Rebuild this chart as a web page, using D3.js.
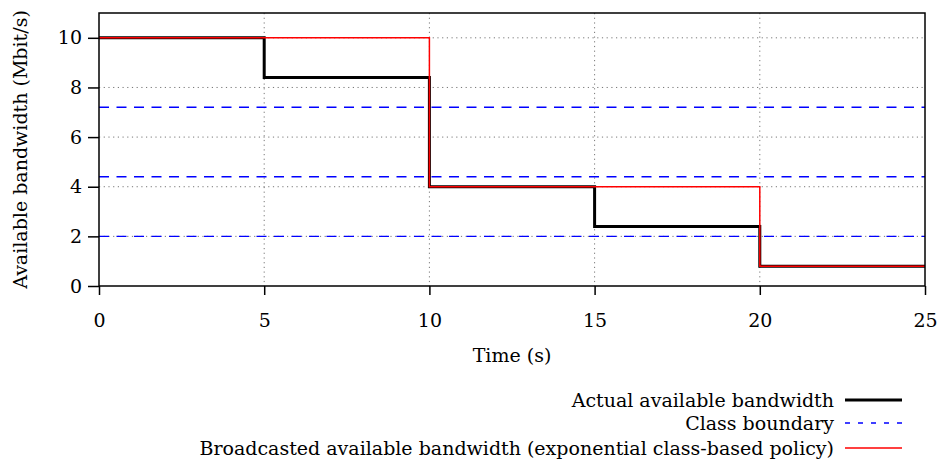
<!DOCTYPE html>
<html>
<head>
<meta charset="utf-8">
<script src="https://cdn.jsdelivr.net/npm/d3@7"></script>
<style>
  body { margin: 0; background: #fff; }
  svg { display: block; font-family: "DejaVu Serif", serif; }
</style>
</head>
<body>
<div id="chart"></div>
<script>
// step data: value holds from start time until the next time
const times = [0, 5, 10, 15, 20, 25];
const actualBw = [10, 8.4, 4, 2.4, 0.8, 0.8];
const broadcastBw = [10, 10, 4, 4, 0.8, 0.8];
const classBounds = [7.2, 4.4, 2];
const xTicks = [0, 5, 10, 15, 20, 25];
const yTicks = [0, 2, 4, 6, 8, 10];
const legendLabels = [
  "Actual available bandwidth",
  "Class boundary",
  "Broadcasted available bandwidth (exponential class-based policy)"
];

const W = 941, H = 465;
const margin = { left: 99, right: 16, top: 13, bottom: 179 };
const width = W - margin.left - margin.right;
const height = H - margin.top - margin.bottom;
const fs = "19px";

const svg = d3.select("#chart").append("svg")
  .attr("width", W)
  .attr("height", H);

const g = svg.append("g")
  .attr("transform", `translate(${margin.left},${margin.top})`);

const x = d3.scaleLinear().domain([0, 25]).range([0, width]);
const y = d3.scaleLinear().domain([0, 11]).range([height, 0]);

// grid
g.selectAll("line.gx")
  .data(xTicks.filter(d => d > 0 && d < 25))
  .join("line")
  .attr("class", "gx")
  .attr("x1", d => x(d)).attr("x2", d => x(d))
  .attr("y1", 0).attr("y2", height)
  .attr("stroke", "#777")
  .attr("stroke-width", 1)
  .attr("stroke-dasharray", "1.2,3.5");

g.selectAll("line.gy")
  .data(yTicks.filter(d => d > 0))
  .join("line")
  .attr("class", "gy")
  .attr("x1", 0).attr("x2", width)
  .attr("y1", d => y(d)).attr("y2", d => y(d))
  .attr("stroke", "#777")
  .attr("stroke-width", 1)
  .attr("stroke-dasharray", "1.2,3.5");

// class boundaries
g.selectAll("line.cb")
  .data(classBounds)
  .join("line")
  .attr("class", "cb")
  .attr("x1", 0).attr("x2", width)
  .attr("y1", d => y(d)).attr("y2", d => y(d))
  .attr("stroke", "#0000ff")
  .attr("stroke-width", 1.4)
  .attr("stroke-dasharray", "10,7.5");

const line = d3.line()
  .x((d, i) => x(times[i]))
  .y(d => y(d))
  .curve(d3.curveStepAfter);

g.append("path")
  .datum(actualBw)
  .attr("d", line)
  .attr("fill", "none")
  .attr("stroke", "#000")
  .attr("stroke-width", 3);

g.append("path")
  .datum(broadcastBw)
  .attr("d", line)
  .attr("fill", "none")
  .attr("stroke", "#ff0000")
  .attr("stroke-width", 1.5);

// frame
g.append("rect")
  .attr("width", width)
  .attr("height", height)
  .attr("fill", "none")
  .attr("stroke", "#000")
  .attr("stroke-width", 1.5);

// axes
const xAxis = g.append("g")
  .attr("transform", `translate(0,${height})`)
  .call(d3.axisBottom(x).tickValues(xTicks).tickSize(9).tickPadding(19).tickSizeOuter(0));
const yAxis = g.append("g")
  .call(d3.axisLeft(y).tickValues(yTicks).tickSize(11).tickPadding(6).tickSizeOuter(0));

[xAxis, yAxis].forEach(a => {
  a.select(".domain").remove();
  a.selectAll(".tick line").attr("stroke", "#000").attr("stroke-width", 1.5);
  a.selectAll(".tick text")
    .attr("fill", "#000")
    .style("font-family", "DejaVu Serif, serif")
    .style("font-size", fs);
});

svg.append("text")
  .attr("x", margin.left + width / 2)
  .attr("y", 362)
  .attr("text-anchor", "middle")
  .style("font-size", fs)
  .text("Time (s)");

svg.append("text")
  .attr("transform", `translate(27,${margin.top + height / 2}) rotate(-90)`)
  .attr("text-anchor", "middle")
  .style("font-size", fs)
  .text("Available bandwidth (Mbit/s)");

// legend
const legendStyles = [
  { stroke: "#000", width: 3, dash: null },
  { stroke: "#0000ff", width: 1.4, dash: "5,8" },
  { stroke: "#ff0000", width: 1.5, dash: null }
];
const legendRowY = [400, 423, 448];
legendLabels.forEach((lab, i) => {
  const row = svg.append("g").attr("transform", `translate(0,${legendRowY[i]})`);
  row.append("text")
    .attr("x", 834)
    .attr("y", 6.5)
    .attr("text-anchor", "end")
    .style("font-size", fs)
    .text(lab);
  row.append("line")
    .attr("x1", 845).attr("x2", 902)
    .attr("y1", 0).attr("y2", 0)
    .attr("stroke", legendStyles[i].stroke)
    .attr("stroke-width", legendStyles[i].width)
    .attr("stroke-dasharray", legendStyles[i].dash);
});
</script>
</body>
</html>
